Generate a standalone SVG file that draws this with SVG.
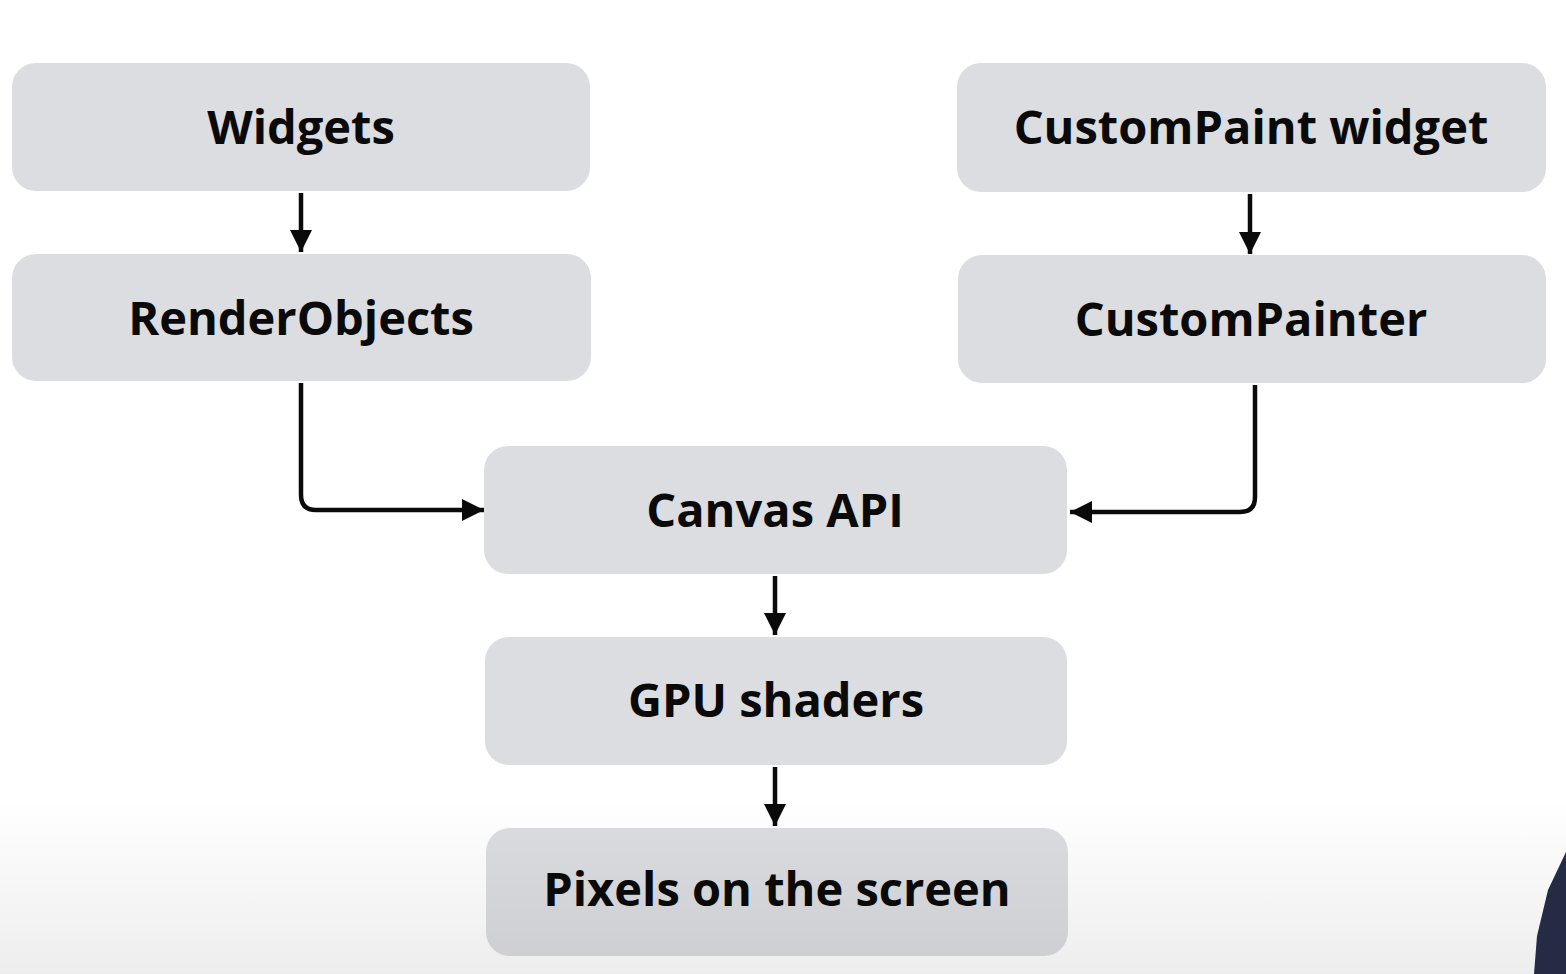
<svg xmlns="http://www.w3.org/2000/svg" width="1566" height="974" viewBox="0 0 1566 974">
<style>
.box{fill:#dcdde0}
.lbl{font-family:"Open Sans","Liberation Sans",sans-serif;font-weight:700;font-size:47px;fill:#0a0a0a;text-anchor:middle}
.conn{fill:none;stroke:#0a0a0a;stroke-width:4.5;stroke-linejoin:round}
</style>
<defs>
<marker id="ah" viewBox="0 0 22 22" refX="22" refY="11" markerWidth="22" markerHeight="22" markerUnits="userSpaceOnUse" orient="auto">
<path d="M0,0 L22,11 L0,22 Z" fill="#0a0a0a"/>
</marker>
<linearGradient id="shade" x1="0" y1="0" x2="0" y2="1">
<stop offset="0" stop-color="#000" stop-opacity="0"/>
<stop offset="1" stop-color="#000" stop-opacity="0.07"/>
</linearGradient>
</defs>
<rect width="1566" height="974" fill="#ffffff"/>
<g id="widgets"><rect class="box" x="12" y="63" width="578" height="128" rx="24"/><text class="lbl" x="301" y="144">Widgets</text></g>
<g id="renderobjects"><rect class="box" x="12" y="254" width="579" height="127" rx="24"/><text class="lbl" x="301" y="335">RenderObjects</text></g>
<g id="custompaintwidget"><rect class="box" x="957" y="63" width="589" height="129" rx="24"/><text class="lbl" x="1251" y="144">CustomPaint widget</text></g>
<g id="custompainter"><rect class="box" x="958" y="255" width="588" height="128" rx="24"/><text class="lbl" x="1251" y="336">CustomPainter</text></g>
<g id="canvasapi"><rect class="box" x="484" y="446" width="583" height="128" rx="24"/><text class="lbl" x="775" y="527">Canvas API</text></g>
<g id="gpushaders"><rect class="box" x="485" y="637" width="582" height="128" rx="24"/><text class="lbl" x="776" y="717">GPU shaders</text></g>
<g id="pixels"><rect class="box" x="486" y="828" width="582" height="128" rx="24"/><text class="lbl" x="777" y="906">Pixels on the screen</text></g>
<g id="connectors">
<path class="conn" d="M301,193 V252" marker-end="url(#ah)"/>
<path class="conn" d="M1250,194 V254" marker-end="url(#ah)"/>
<path class="conn" d="M301,383 V495 Q301,510 316,510 H484" marker-end="url(#ah)"/>
<path class="conn" d="M1255,385 V497 Q1255,512 1240,512 H1070" marker-end="url(#ah)"/>
<path class="conn" d="M775,576 V635" marker-end="url(#ah)"/>
<path class="conn" d="M775,767 V826" marker-end="url(#ah)"/>
</g>
<rect x="0" y="800" width="1566" height="174" fill="url(#shade)"/>
<path d="M1566,852 L1548,890 L1537,936 L1534,974 L1566,974 Z" fill="#252a45"/>
</svg>
